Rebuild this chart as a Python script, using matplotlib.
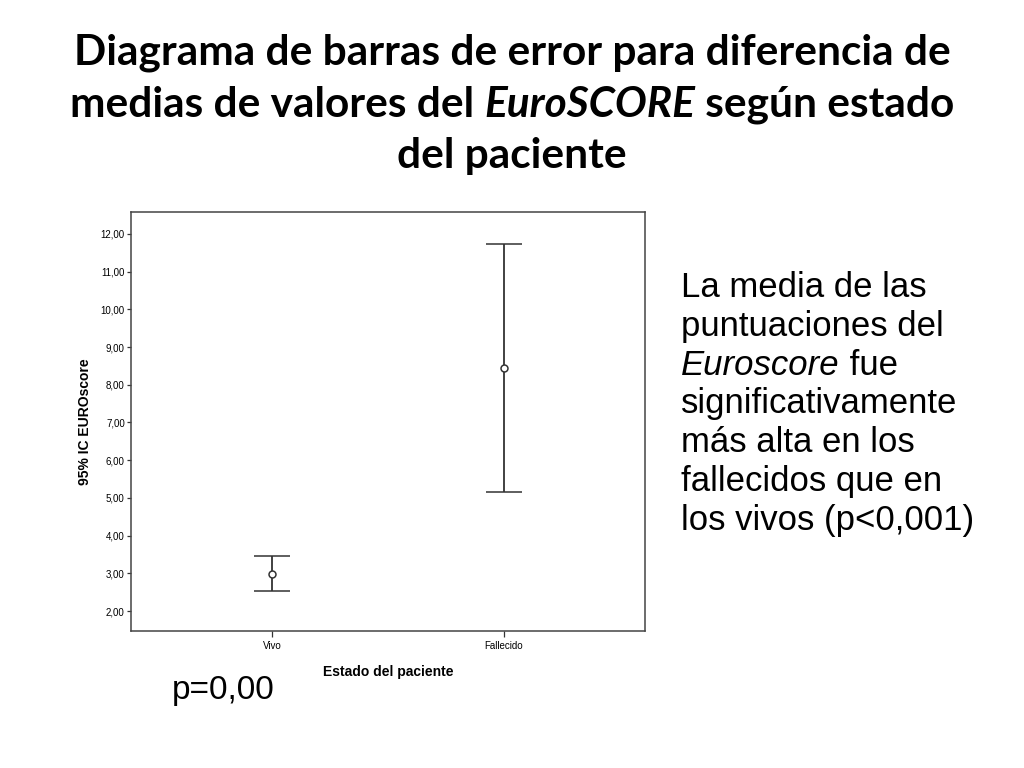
import matplotlib
matplotlib.use("Agg")
import matplotlib.pyplot as plt
import numpy as np

# data
groups = ["Vivo", "Fallecido"]
means = [2.98, 8.45]
ci_low = [2.53, 5.16]
ci_high = [3.46, 11.73]
y_ticks = [2, 3, 4, 5, 6, 7, 8, 9, 10, 11, 12]

W, H = 1024, 768
fig = plt.figure(figsize=(W / 100, H / 100), dpi=100)
ink = "#333333"


def px(x, y):
    return x / W, 1 - y / H


# plot area
ax = fig.add_axes([131 / W, 1 - 631 / H, (645 - 131) / W, (631 - 212) / H])
xs = np.arange(len(groups))
means_a = np.array(means)
yerr = [means_a - np.array(ci_low), np.array(ci_high) - means_a]
ax.errorbar(xs, means, yerr=yerr, fmt="o", ms=5, mfc="white", mec=ink, mew=1.1,
            ecolor=ink, elinewidth=1.3, capsize=13, capthick=1.3, color=ink)
ax.set_xlim(-0.61, 1.61)
ax.set_ylim(1.47, 12.58)
ax.set_xticks(xs)
ax.set_xticklabels(groups)
ax.set_yticks(y_ticks)
ax.set_yticklabels([f"{v:.2f}".replace(".", ",") for v in y_ticks])
ax.tick_params(labelsize=7, width=0.9, color=ink)
ax.tick_params(axis="y", length=3, pad=1.5)
ax.tick_params(axis="x", length=4, pad=3)
for lab in ax.get_xticklabels() + ax.get_yticklabels():
    lab.set_fontfamily("Liberation Sans")
for s in ax.spines.values():
    s.set_color("#444444")
    s.set_linewidth(1.1)
ax.set_xlabel("Estado del paciente", fontsize=10, fontweight="bold",
              family="Liberation Sans", labelpad=10)
ax.set_ylabel("95% IC EUROscore", fontsize=10, fontweight="bold",
              family="Liberation Sans", labelpad=6)

renderer = fig.canvas.get_renderer()


def line_pieces(pieces, x, y, align="left", **kw):
    """Place (text, style) pieces one after another on one baseline."""
    arts = []
    for txt, style in pieces:
        t = fig.text(0, 0, txt, va="baseline", ha="left", style=style, **kw)
        arts.append(t)
    widths = [a.get_window_extent(renderer).width for a in arts]
    total = sum(widths)
    x0 = x - total / 2 if align == "center" else x
    for a, w in zip(arts, widths):
        a.set_position(px(x0, y))
        x0 += w


# title
tkw = dict(fontsize=30.5, fontweight="bold", family="Lato")
line_pieces([("Diagrama de barras de error para diferencia de", "normal")], 512, 65, "center", **tkw)
line_pieces([("medias de valores del ", "normal"), ("EuroSCORE", "italic"),
             (" según estado", "normal")], 512, 117, "center", **tkw)
line_pieces([("del paciente", "normal")], 512, 168, "center", **tkw)

# side note
skw = dict(fontsize=25, family="Liberation Sans")
note = [
    [("La media de las", "normal")],
    [("puntuaciones del", "normal")],
    [("Euroscore", "italic"), (" fue", "normal")],
    [("significativamente", "normal")],
    [("más alta en los", "normal")],
    [("fallecidos que en", "normal")],
    [("los vivos (p<0,001)", "normal")],
]
for i, pieces in enumerate(note):
    line_pieces(pieces, 681, 297 + 38.8 * i, "left", **skw)

fig.text(*px(172, 699), "p=0,00", fontsize=24, family="Liberation Sans",
         va="baseline", ha="left")

fig.savefig("out.png", dpi=100)
